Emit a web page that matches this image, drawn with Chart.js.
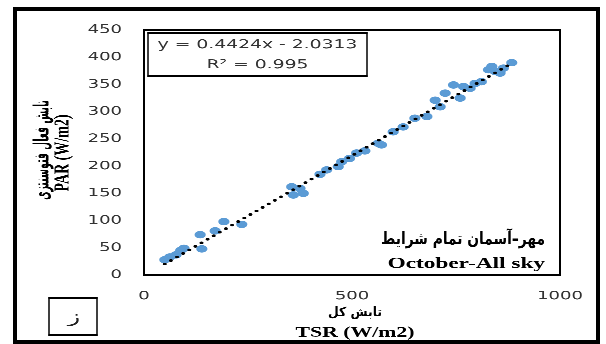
<!DOCTYPE html>
<html>
<head>
<meta charset="utf-8">
<script src="https://cdn.jsdelivr.net/npm/chart.js@4"></script>
<style>
  html, body { margin: 0; padding: 0; background: #fff; width: 606px; height: 344px; overflow: hidden; }
  #wrap { position: absolute; left: 0; top: 0; width: 404px; height: 344px; transform: scaleX(1.5); transform-origin: 0 0; }
  #frame { position: absolute; left: 13px; top: 7px; width: 587px; height: 337px; border: 4px solid #000; box-sizing: border-box; pointer-events: none; }
</style>
</head>
<body>
<div id="wrap"><canvas id="c" width="404" height="344"></canvas></div>
<div id="frame"></div>
<script>
// Total solar radiation (TSR) vs photosynthetically active radiation (PAR), W/m2
const TSR = [50, 62, 77, 88, 96, 135, 139, 171, 192, 235, 355, 359, 375, 383, 423, 439, 467, 475, 494,
             511, 531, 563, 571, 599, 623, 651, 680, 700, 712, 724, 744, 760, 768, 784, 796, 811, 828,
             836, 844, 856, 864, 884];
const PAR = [28, 33, 37, 45, 49, 74, 48, 81, 98, 93, 162, 147, 159, 150, 185, 193, 199, 208, 214,
             224, 228, 242, 239, 263, 272, 288, 291, 321, 309, 334, 349, 325, 346, 343, 352, 355, 377,
             383, 374, 371, 380, 390];

// Linear fit reported on the chart
const SLOPE = 0.4424;
const INTERCEPT = -2.0313;
const R2 = 0.995;

const X_RANGE = [0, 1000];
const X_STEP = 500;
const Y_RANGE = [0, 450];
const Y_STEP = 50;

const Y_TITLE = ['تابش فعال فتوسنتزی', 'PAR (W/m2)'];
const X_TITLE = ['تابش کل', 'TSR (W/m2)'];
const NOTE = ['مهر–آسمان تمام شرایط', 'October-All sky'];
const PANEL = 'ز';

// the canvas is drawn narrow and widened by the CSS transform
const SX = 1.5;

const points = TSR.map((x, i) => ({ x: x, y: PAR[i] }));
const xMin = Math.min(...TSR), xMax = Math.max(...TSR);
const trend = [xMin, xMax].map(x => ({ x: x, y: SLOPE * x + INTERCEPT }));

const eqText = 'y = ' + SLOPE + 'x ' + (INTERCEPT < 0 ? '- ' : '+ ') + Math.abs(INTERCEPT);
const r2Text = 'R² = ' + R2;

function box(ctx, x0, y0, x1, y1, t) {
  const tv = t / SX;
  ctx.fillRect(x0 - tv / 2, y0 - t / 2, x1 - x0 + tv, t);
  ctx.fillRect(x0 - tv / 2, y1 - t / 2, x1 - x0 + tv, t);
  ctx.fillRect(x0 - tv / 2, y0 - t / 2, tv, y1 - y0 + t);
  ctx.fillRect(x1 - tv / 2, y0 - t / 2, tv, y1 - y0 + t);
}

// Arabic-script line: fixed glyph height, squeezed to the wanted length
function rtlText(ctx, str, font, x, y, maxW) {
  ctx.save();
  ctx.direction = 'rtl';
  ctx.font = font;
  ctx.fillText(str, x, y, maxW);
  ctx.restore();
}

const decorations = {
  id: 'decorations',
  afterDraw(chart) {
    const ctx = chart.ctx;
    const a = chart.chartArea;
    ctx.save();
    ctx.fillStyle = '#000';
    // plot frame
    box(ctx, a.left, a.top, a.right, a.bottom, 2);

    // regression box
    const bx0 = 148 / SX, bx1 = 367 / SX, by0 = 33, by1 = 76;
    box(ctx, bx0, by0, bx1, by1, 1.5);
    ctx.fillStyle = '#333';
    ctx.textAlign = 'center';
    ctx.textBaseline = 'middle';
    ctx.font = '12.5px "DejaVu Sans"';
    ctx.fillText(eqText, (bx0 + bx1) / 2, 45);
    ctx.fillText(r2Text, (bx0 + bx1) / 2, 65);

    // month / sky condition note
    ctx.fillStyle = '#000';
    ctx.textAlign = 'right';
    rtlText(ctx, NOTE[0], 'bold 17px "DejaVu Sans"', 545 / SX, 240, 164 / SX);
    ctx.font = 'bold 15.5px "Liberation Serif"';
    ctx.fillText(NOTE[1], 545 / SX, 264);

    // y axis title (two lines, rotated)
    ctx.textAlign = 'center';
    ctx.save();
    ctx.translate(43 / SX, 150);
    ctx.rotate(-Math.PI / 2);
    rtlText(ctx, Y_TITLE[0], 'bold 14px "DejaVu Sans"', 0, 0, 100);
    ctx.restore();
    ctx.save();
    ctx.translate(63 / SX, 153);
    ctx.rotate(-Math.PI / 2);
    ctx.font = 'bold 14px "Liberation Serif"';
    ctx.fillText(Y_TITLE[1], 0, 0);
    ctx.restore();

    // x axis title (two lines)
    const cx = 355 / SX;
    rtlText(ctx, X_TITLE[0], 'bold 13px "DejaVu Sans"', cx, 313, 54 / SX);
    ctx.font = 'bold 14.5px "Liberation Serif"';
    ctx.fillText(X_TITLE[1], cx, 333);

    // panel letter
    ctx.fillStyle = '#000';
    box(ctx, 49 / SX, 298, 97 / SX, 335, 1.5);
    ctx.fillStyle = '#222';
    ctx.font = '17px "DejaVu Sans"';
    ctx.fillText(PANEL, 74 / SX, 318);
    ctx.restore();
  }
};

const tickFont = { family: '"DejaVu Sans"', size: 12 };

new Chart(document.getElementById('c'), {
  type: 'scatter',
  data: {
    datasets: [
      {
        type: 'line',
        data: trend,
        borderColor: '#000',
        borderWidth: 2.6,
        borderDash: [0, 5.4],
        borderCapStyle: 'round',
        pointRadius: 0,
        fill: false,
        order: 0
      },
      {
        type: 'scatter',
        data: points,
        backgroundColor: '#5B9BD5',
        borderColor: '#5B9BD5',
        borderWidth: 0,
        pointRadius: 3.7,
        order: 1
      }
    ]
  },
  options: {
    responsive: false,
    animation: false,
    devicePixelRatio: 3,
    layout: { padding: { top: 30, right: 404 - 560 / SX, left: 0, bottom: 0 } },
    plugins: { legend: { display: false }, tooltip: { enabled: false } },
    scales: {
      x: {
        type: 'linear',
        min: X_RANGE[0], max: X_RANGE[1],
        ticks: { stepSize: X_STEP, padding: 14, color: '#333', font: tickFont, maxRotation: 0,
                 callback: v => String(v) },
        grid: { display: false, drawTicks: false },
        border: { display: false },
        afterFit(s) { s.height = 69; }
      },
      y: {
        type: 'linear',
        min: Y_RANGE[0], max: Y_RANGE[1],
        ticks: { stepSize: Y_STEP, padding: 96 - 122 / SX, color: '#333', font: tickFont,
                 callback: v => String(v) },
        grid: { display: false, drawTicks: false },
        border: { display: false },
        afterFit(s) { s.width = 144 / SX; }
      }
    }
  },
  plugins: [decorations]
});
</script>
</body>
</html>
